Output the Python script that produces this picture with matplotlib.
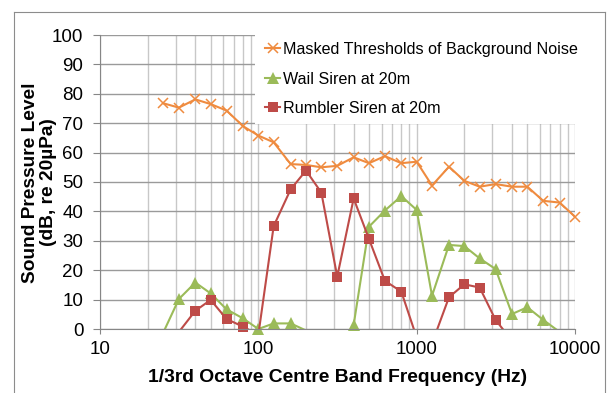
import numpy as np
import matplotlib
matplotlib.use('Agg')
import matplotlib.pyplot as plt
from matplotlib.ticker import LogLocator, NullFormatter
from matplotlib.lines import Line2D
from matplotlib.patches import Rectangle

plt.rcParams['font.family'] = 'Liberation Sans'

nan = np.nan

# 1/3 octave centre band frequencies (Hz)
freq = [25, 31.5, 40, 50, 63, 80, 100, 125, 160, 200, 250, 315, 400, 500,
        630, 800, 1000, 1250, 1600, 2000, 2500, 3150, 4000, 5000, 6300,
        8000, 10000]

masked = [76.8, 75.3, 78.1, 76.5, 74.3, 69.0, 65.8, 63.5, 56.1, 55.8, 55.0,
          55.5, 58.4, 56.4, 58.8, 56.4, 56.9, 48.8, 55.2, 50.4, 48.4, 49.3,
          48.4, 48.4, 43.6, 43.0, 38.2]

wail = [-1.4, 10.2, 15.8, 12.1, 6.7, 3.6, 0.0, 1.9, 1.9, -0.5, nan, nan,
        1.4, 34.8, 40.3, 45.2, 40.5, 11.3, 28.6, 28.2, 24.0, 20.4, 5.1, 7.4,
        3.1, -1.0, nan]

rumbler = [nan, -1.0, 6.2, 9.9, 3.4, 0.8, -2.0, 35.0, 47.5, 53.9, 46.4, 17.8,
           44.4, 30.6, 16.4, 12.7, -2.9, -4.9, 10.8, 15.2, 14.1, 3.1, -4.0,
           nan, nan, nan, nan]

names = ['Masked Thresholds of Background Noise', 'Wail Siren at 20m',
         'Rumbler Siren at 20m']
xticks = [10, 100, 1000, 10000]
xticklabels = ['10', '100', '1000', '10000']
yticks = list(range(0, 101, 10))

W, H = 611, 393
fig = plt.figure(figsize=(W / 100, H / 100), dpi=100)
ax = fig.add_axes([100 / W, 1 - 329 / H, 475 / W, 294 / H])

styles = [
    dict(color='#EF8B3F', marker='x', ms=7, mew=1.1),
    dict(color='#9BBB59', marker='^', ms=8.5, mew=0),
    dict(color='#BE4B48', marker='s', ms=7.2, mew=0),
]

handles = []
for y, st, name in zip([masked, wail, rumbler], styles, names):
    y = np.array(y, dtype=float)
    f = np.array(freq)
    # line is clipped at the axis, markers only where value is on scale
    ax.plot(f, y, color=st['color'], lw=1.5)
    keep = y >= 0
    ax.plot(f[keep], y[keep], ls='none', clip_on=False, **st)
    handles.append(Line2D([], [], lw=1.5, **st))

ax.set_xscale('log')
ax.set_xlim(10, 10000)
ax.set_ylim(0, 100)
ax.set_xticks(xticks)
ax.set_xticklabels(xticklabels)
ax.xaxis.set_minor_locator(LogLocator(base=10, subs=range(2, 10)))
ax.xaxis.set_minor_formatter(NullFormatter())
ax.set_yticks(yticks)

ax.grid(axis='y', which='major', color='#9a9a9a', lw=1)
ax.grid(axis='x', which='both', color='#c8c8c8', lw=1)

for s in ['top', 'right']:
    ax.spines[s].set_visible(False)
for s in ['left', 'bottom']:
    ax.spines[s].set_color('#868686')

ax.tick_params(axis='y', length=5, color='#868686', pad=7, labelsize=13.5)
ax.tick_params(axis='x', which='major', length=3.6, color='#868686', pad=5,
               labelsize=13.5)
ax.tick_params(axis='x', which='minor', length=0)

# white legend area hides the gridlines behind it
ax.add_patch(Rectangle((255 / W, 1 - 124 / H), 323 / W, 94 / H,
                       transform=fig.transFigure, facecolor='white',
                       edgecolor='none', zorder=1.8, clip_on=False))

ax.legend(handles, names, loc='upper left',
          bbox_to_anchor=(265 / W, 1 - 42 / H), bbox_transform=fig.transFigure,
          frameon=False, fontsize=11.6, handlelength=0.95, handletextpad=0.15,
          labelspacing=0.9, borderpad=0, borderaxespad=0, numpoints=1)

fig.text(337.5 / W, 1 - 382 / H, '1/3rd Octave Centre Band Frequency (Hz)',
         ha='center', va='baseline', fontsize=13.9, weight='bold')
fig.text(39.5 / W, 1 - 182.5 / H, 'Sound Pressure Level\n(dB, re 20µPa)',
         rotation=90, ha='center', va='center', fontsize=13.8, weight='bold',
         linespacing=1.15, multialignment='center')

# chart border
for xs, ys in [([14, 14], [12, H]), ([14, 605], [12, 12]), ([605, 605], [12, H])]:
    fig.add_artist(Line2D([x / W for x in xs], [1 - v / H for v in ys],
                          color='#8c8c8c', lw=0.8))

fig.savefig('out.png', dpi=100)
